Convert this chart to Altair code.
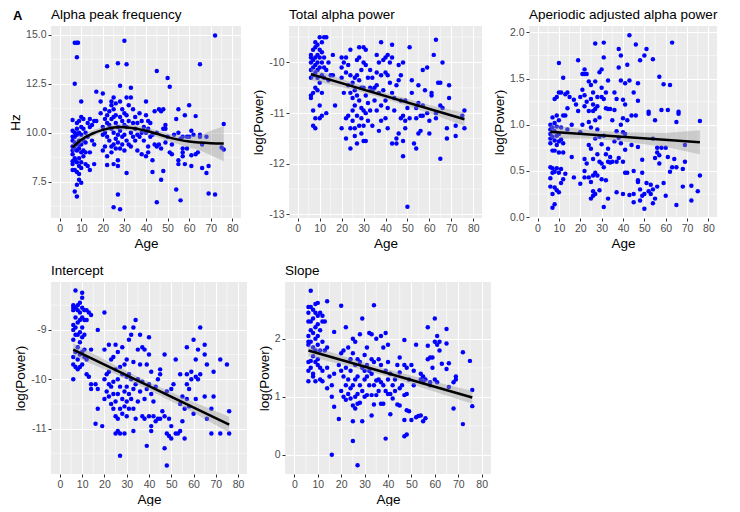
import altair as alt
import pandas as pd

FONT = "Liberation Sans"

AGE_MAJOR = [0, 10, 20, 30, 40, 50, 60, 70, 80]
AGE_MINOR = [5, 15, 25, 35, 45, 55, 65, 75]

# ---------------- Panel 1: Alpha peak frequency (age, Hz) ----------------
apf_points = [
    (6,10.65),(6,10.1),(6,9.8),(6,9.3),(6,9.1),(6,8.9),(6,8.55),(6,8.4),(6,8.1),(6,9.6),
    (7,14.6),(7,12.5),(7,10.0),(7,9.5),(7,9.2),(7,8.7),(7,8.6),(7,8.1),(7,7.0),(7,9.8),
    (8,14.6),(8,13.85),(8,10.5),(8,9.9),(8,9.4),(8,9.1),(8,8.5),(8,8.0),(8,7.35),(8,6.75),(8,10.2),
    (8.5,14.6),
    (9,10.6),(9,10.0),(9,9.6),(9,9.2),(9,8.7),(9,8.3),(9,7.9),(9,7.6),(9,9.4),
    (10,11.6),(10,10.8),(10,10.3),(10,9.9),(10,9.4),(10,9.0),(10,8.5),(10,8.2),(10,7.45),
    (11,10.7),(11,10.2),(11,9.6),(11,9.1),(11,8.8),
    (12,10.0),(12,9.5),(12,8.4),(12,9.0),
    (13,9.8),(13,10.5),(13,8.3),
    (14,10.7),(14,10.3),(14,9.0),(14,8.1),
    (15,10.4),(15,9.6),
    (16,10.6),(16,9.4),(16,8.4),
    (17,12.1),(17,10.6),
    (19,11.6),(19,11.0),
    (20,12.0),(20,10.3),(20,9.9),(20,9.1),
    (21,11.2),(21,10.7),(21,10.0),(21,9.3),
    (22,13.4),(22,10.9),(22,10.5),(22,9.8),(22,8.8),(22,8.35),
    (23,11.1),(23,10.4),(23,9.6),
    (24,11.6),(24,11.4),(24,10.7),(24,10.2),(24,9.3),(24,9.0),
    (25,11.8),(25,11.2),(25,10.8),(25,10.0),(25,9.4),(25,8.4),(25,6.2),
    (26,11.5),(26,10.9),(26,10.5),(26,9.7),(26,9.2),
    (27,13.55),(27,10.3),(27,9.9),(27,9.5),(27,8.6),(27,8.3),(27,6.85),
    (28,12.4),(28,11.6),(28,10.8),(28,10.1),(28,9.2),(28,6.1),
    (29,11.2),(29,10.6),(29,9.8),(29,9.4),
    (30,14.7),(30,11.0),(30,10.4),(30,9.9),(30,9.1),
    (31,13.5),(31,11.8),(31,10.9),(31,10.3),(31,9.6),(31,7.95),
    (32,11.4),(32,10.6),(32,9.4),
    (33,12.3),(33,11.8),(33,10.0),(33,9.3),
    (34,11.2),(34,10.5),(34,9.8),
    (35,10.8),(35,10.2),(35,9.6),
    (36,10.5),(36,9.9),(36,9.1),
    (37,11.0),(37,9.8),
    (38,10.6),(38,10.0),(38,8.9),
    (39,10.3),(39,9.6),
    (40,11.6),(40,10.9),(40,10.0),(40,8.8),
    (41,10.6),(41,10.2),(41,9.3),(41,9.0),
    (42,10.5),(42,9.8),
    (43,9.9),(43,8.6),(43,8.0),
    (44,9.4),(44,11.1),
    (45,13.15),(45,10.0),(45,9.3),(45,6.45),
    (46,11.2),(46,9.4),
    (47,11.1),(47,7.6),(47,9.2),
    (48,11.2),(48,10.2),(48,8.05),
    (49,10.4),(49,10.2),(49,9.5),
    (50,12.8),(50,9.8),
    (51,12.35),(51,9.0),
    (52,8.9),(52,9.4),
    (53,9.9),
    (54,10.7),(54,7.1),
    (55,11.2),(55,10.0),(55,8.6),(55,8.4),
    (56,6.55),(56,9.7),
    (57,9.8),(57,9.2),(57,8.8),(57,9.0),
    (58,10.9),(58,8.4),
    (59,9.8),(59,9.2),
    (60,11.4),(60,9.8),
    (61,10.1),(61,8.85),(61,8.3),
    (62,9.9),
    (63,10.85),(63,8.9),
    (64,9.0),
    (65,13.5),(65,9.9),(65,9.8),
    (66,9.4),(66,8.2),
    (68,9.8),(68,7.95),
    (69,8.3),(69,6.9),
    (72,14.97),(72,6.85),
    (75,9.25),
    (76,10.45),(76,9.15),
]
apf_fit_age = [6, 10, 15, 20, 25, 28, 30, 35, 40, 45, 50, 55, 60, 65, 70, 76]
apf_fit     = [9.25, 9.65, 9.95, 10.15, 10.27, 10.3, 10.28, 10.22, 10.1, 9.95, 9.78, 9.65, 9.55, 9.5, 9.47, 9.45]
apf_band_age = [6, 10, 15, 20, 25, 30, 35, 40, 45, 50, 55, 60, 65, 70, 76]
apf_lo = [9.0, 9.45, 9.8, 10.0, 10.12, 10.12, 10.05, 9.93, 9.78, 9.58, 9.42, 9.25, 9.1, 8.85, 8.55]
apf_hi = [9.55, 9.85, 10.12, 10.3, 10.42, 10.44, 10.38, 10.27, 10.12, 9.98, 9.88, 9.85, 9.9, 10.1, 10.35]
apf_ymajor = [7.5, 10.0, 12.5, 15.0]
apf_yminor = [6.25, 8.75, 11.25, 13.75]

# ---------------- Panel 2: Total alpha power ----------------
tap_points = [
    (6,-9.85),(6,-10.0),(6,-10.15),(6,-10.3),(6,-10.65),(6,-10.7),(6,-9.9),
    (7,-9.95),(7,-10.1),(7,-10.25),(7,-10.6),(7,-11.25),(7,-10.95),(7,-9.75),
    (8,-9.7),(8,-9.9),(8,-10.05),(8,-10.2),(8,-10.5),(8,-11.1),(8,-11.3),(8,-9.6),
    (9,-9.65),(9,-9.85),(9,-10.0),(9,-10.15),(9,-10.55),(9,-10.3),
    (10,-9.5),(10,-9.75),(10,-9.9),(10,-10.1),(10,-10.4),(10,-10.85),(10,-11.1),
    (11,-9.8),(11,-10.0),(11,-10.25),(11,-10.6),(11,-11.05),(11,-9.6),
    (12,-9.5),(12,-9.9),(12,-10.1),(12,-10.3),
    (13,-9.5),(13,-10.15),(13,-11.0),
    (14,-10.0),(14,-10.35),
    (15,-10.25),
    (16,-9.85),(16,-10.25),
    (17,-10.85),
    (20,-9.9),(20,-10.1),(20,-10.3),(20,-11.3),
    (21,-10.0),(21,-10.6),
    (22,-9.9),(22,-10.2),(22,-11.1),(22,-11.5),
    (23,-10.05),(23,-10.45),(23,-11.05),
    (24,-9.75),(24,-10.25),(24,-10.6),(24,-11.3),(24,-11.7),
    (25,-10.4),(25,-10.7),(25,-10.95),(25,-11.15),
    (26,-10.3),(26,-10.55),(26,-10.85),(26,-11.3),(26,-11.45),
    (27,-9.95),(27,-10.25),(27,-10.65),(27,-11.05),(27,-11.6),
    (28,-9.7),(28,-9.9),(28,-10.35),(28,-10.75),(28,-11.25),
    (29,-10.15),(29,-10.5),(29,-10.9),(29,-11.1),(29,-11.4),
    (30,-9.7),(30,-10.0),(30,-10.5),(30,-10.95),(30,-11.25),(30,-11.55),
    (31,-9.75),(31,-10.05),(31,-10.65),(31,-11.0),(31,-11.55),
    (32,-10.3),(32,-10.8),(32,-11.15),
    (33,-10.15),(33,-10.5),(33,-10.95),
    (34,-10.3),(34,-10.55),(34,-11.25),
    (35,-10.5),(35,-10.75),
    (36,-9.85),(36,-10.2),(36,-10.45),(36,-10.95),
    (37,-10.0),(37,-10.6),(37,-11.35),
    (38,-9.6),(38,-10.25),(38,-10.85),(38,-11.15),
    (39,-9.95),(39,-10.55),
    (40,-9.9),(40,-10.2),(40,-10.75),(40,-11.1),
    (41,-9.85),(41,-10.25),(41,-10.9),(41,-11.3),
    (42,-10.0),(42,-10.4),
    (43,-9.65),(43,-10.6),(43,-11.6),(43,-9.9),
    (44,-10.7),(44,-10.95),
    (45,-10.45),(45,-11.5),(45,-11.6),
    (46,-10.05),(46,-10.35),(46,-11.4),
    (47,-10.25),(47,-10.75),(47,-11.1),
    (48,-10.0),(48,-11.05),(48,-11.55),(48,-11.85),
    (49,-10.75),(49,-11.3),(49,-11.15),
    (50,-12.85),(50,-10.9),
    (51,-9.7),(51,-11.1),
    (52,-10.35),(52,-10.6),
    (53,-11.6),
    (54,-10.9),(54,-11.7),(54,-11.1),
    (55,-10.45),(55,-10.8),(55,-11.4),
    (56,-11.35),(56,-11.05),
    (57,-10.15),(57,-10.85),(57,-11.05),
    (58,-10.55),
    (59,-10.1),(59,-11.0),
    (60,-11.15),(60,-11.4),
    (61,-10.6),(61,-10.65),
    (62,-9.85),
    (63,-9.55),(63,-11.1),(63,-11.0),
    (64,-10.4),
    (65,-10.4),(65,-11.9),(65,-10.85),
    (66,-10.0),(66,-10.9),
    (68,-11.3),(68,-11.5),
    (69,-10.45),(69,-10.7),
    (72,-11.25),(72,-11.45),
    (75,-11.05),
    (76,-10.95),(76,-11.3),
]
tap_fit_age = [6, 76]
tap_fit = [-10.23, -11.12]
tap_band_age = [6, 25, 40, 60, 76]
tap_lo = [-10.35, -10.54, -10.72, -11.0, -11.25]
tap_hi = [-10.11, -10.40, -10.60, -10.84, -10.99]
tap_ymajor = [-13, -12, -11, -10]
tap_yminor = [-12.5, -11.5, -10.5, -9.5]

# ---------------- Panel 3: Aperiodic adjusted alpha power ----------------
aap_points = [
    (6,1.0),(6,0.95),(6,0.85),(6,0.8),(6,0.54),(6,0.42),(6,0.33),(6,0.9),
    (7,1.08),(7,0.97),(7,0.87),(7,0.72),(7,0.53),(7,0.48),(7,0.1),(7,0.25),
    (8,1.02),(8,0.93),(8,0.83),(8,0.72),(8,0.49),(8,0.32),(8,0.14),(8,1.28),
    (9,1.1),(9,0.98),(9,0.88),(9,0.78),(9,0.53),(9,0.29),(9,1.3),
    (10,1.67),(10,1.35),(10,1.05),(10,0.9),(10,0.82),(10,0.48),(10,0.27),(10,0.7),
    (11,1.35),(11,0.97),(11,0.84),(11,0.52),(11,0.37),
    (12,1.51),(12,1.1),(12,0.8),(12,0.7),(12,0.41),
    (13,1.33),(13,1.1),(13,0.47),
    (14,1.35),(14,1.18),(14,0.95),
    (15,1.3),
    (16,1.0),(16,0.65),
    (17,1.27),(17,0.43),
    (18,1.22),
    (19,1.7),(19,1.15),
    (20,1.3),(20,0.36),(20,0.92),
    (21,1.55),(21,1.38),(21,1.0),
    (22,1.6),(22,1.55),(22,1.32),(22,1.2),(22,0.63),(22,0.43),(22,0.5),
    (23,1.55),(23,1.25),(23,0.58),
    (24,1.47),(24,1.15),(24,1.03),(24,0.78),(24,0.43),
    (25,1.43),(25,1.28),(25,0.97),(25,0.74),(25,0.38),(25,0.2),
    (26,1.35),(26,1.22),(26,1.15),(26,0.63),(26,0.45),(26,0.28),(26,0.23),
    (27,1.88),(27,1.47),(27,1.17),(27,1.05),(27,0.85),(27,0.48),(27,0.25),
    (28,1.3),(28,1.2),(28,0.95),(28,0.45),(28,0.68),
    (29,1.57),(29,1.08),(29,0.87),(29,0.6),(29,0.29),
    (30,1.6),(30,1.4),(30,1.3),(30,0.79),(30,0.58),(30,0.41),
    (31,1.89),(31,1.73),(31,1.28),(31,0.88),(31,0.54),(31,0.11),
    (32,1.35),(32,1.18),(32,0.68),(32,0.4),
    (33,1.48),(33,1.17),(33,0.74),(33,0.6),(33,0.2),
    (34,1.17),(34,0.65),(34,0.59),
    (35,1.05),(35,0.6),
    (36,1.35),(36,1.16),(36,0.82),
    (37,1.28),(37,0.93),(37,0.27),(37,0.6),
    (38,1.82),(38,1.62),(38,0.86),(38,0.64),
    (39,1.75),(39,1.48),(39,1.0),(39,0.8),
    (40,1.27),(40,1.07),(40,0.92),(40,0.6),(40,0.25),
    (41,1.45),(41,1.22),(41,0.73),(41,0.48),(41,0.9),
    (42,1.65),(42,1.05),(42,0.48),
    (43,1.97),(43,1.48),(43,0.24),
    (44,0.78),(44,1.1),
    (45,1.35),(45,0.5),(45,0.16),(45,0.25),
    (46,1.87),(46,1.1),
    (47,1.45),(47,1.26),(47,0.38),(47,0.4),(47,0.76),
    (48,1.7),(48,0.3),(48,0.18),
    (49,0.62),(49,0.48),(49,0.23),
    (50,1.75),(50,0.09),(50,0.25),
    (51,1.82),(51,0.37),
    (52,1.12),(52,1.14),(52,0.28),
    (53,0.25),(53,0.35),
    (54,1.71),(54,0.85),(54,0.3),(54,0.15),
    (55,1.05),(55,0.64),(55,0.2),
    (56,0.33),(56,0.7),(56,0.75),
    (57,1.52),(57,0.67),(57,0.58),
    (58,1.16),(58,0.75),
    (59,1.44),(59,0.37),
    (60,0.23),(60,0.75),
    (61,1.16),(61,0.65),
    (62,1.43),(62,0.49),
    (63,1.89),(63,0.54),
    (64,0.63),
    (65,1.03),(65,0.54),(65,0.13),
    (66,1.14),(66,1.12),
    (68,0.52),(68,0.33),
    (69,0.6),(69,0.78),
    (72,0.34),(72,0.18),
    (75,0.28),
    (76,1.04),(76,0.45),
]
aap_fit_age = [6, 76]
aap_fit = [0.925, 0.81]
aap_band_age = [6, 25, 40, 60, 76]
aap_lo = [0.85, 0.85, 0.82, 0.76, 0.68]
aap_hi = [1.0, 0.94, 0.92, 0.91, 0.94]
aap_ymajor = [0.0, 0.5, 1.0, 1.5, 2.0]
aap_yminor = [0.25, 0.75, 1.25, 1.75]

# ---------------- Panel 4: Intercept ----------------
int_points = [
    (6,-8.5),(6,-8.6),(6,-8.9),(6,-9.0),(6,-9.2),(6,-9.55),(6,-9.7),(6,-10.0),(6,-8.55),
    (7,-8.2),(7,-8.55),(7,-8.75),(7,-9.1),(7,-9.45),(7,-9.75),(7,-8.95),
    (8,-8.6),(8,-8.85),(8,-9.1),(8,-9.35),(8,-9.6),(8,-9.8),(8,-8.5),
    (9,-8.65),(9,-8.8),(9,-9.05),(9,-9.25),(9,-9.5),(9,-9.75),(9,-8.45),
    (10,-8.25),(10,-8.55),(10,-8.75),(10,-8.95),(10,-9.15),(10,-9.45),(10,-9.7),(10,-8.35),
    (11,-8.6),(11,-8.8),(11,-9.1),(11,-9.4),(11,-9.55),
    (12,-8.6),(12,-8.8),(12,-9.9),(12,-9.6),
    (13,-8.65),(13,-9.95),
    (14,-8.7),(14,-9.4),(14,-10.1),(14,-10.2),
    (16,-10.1),(16,-10.9),
    (17,-9.0),(17,-10.2),(17,-10.6),
    (19,-10.95),
    (20,-8.65),(20,-9.4),(20,-10.0),(20,-10.4),
    (21,-9.9),(21,-10.25),
    (22,-9.3),(22,-9.85),(22,-10.1),(22,-10.35),
    (23,-9.6),(23,-10.15),(23,-10.5),
    (24,-9.55),(24,-10.05),(24,-10.3),(24,-10.6),
    (25,-9.3),(25,-9.8),(25,-10.45),(25,-10.75),(25,-11.1),
    (26,-9.45),(26,-10.0),(26,-10.3),(26,-10.8),(26,-11.05),
    (27,-9.75),(27,-10.15),(27,-10.6),(27,-11.1),(27,-11.55),
    (28,-9.35),(28,-9.9),(28,-10.4),(28,-10.7),
    (29,-8.95),(29,-9.7),(29,-10.25),(29,-10.55),(29,-11.1),
    (30,-9.6),(30,-9.95),(30,-10.15),(30,-10.45),(30,-10.75),
    (31,-9.2),(31,-9.9),(31,-10.3),(31,-10.6),
    (32,-9.1),(32,-10.0),(32,-10.4),
    (33,-8.95),(33,-9.65),(33,-10.2),(33,-10.6),(33,-11.05),
    (34,-8.8),(34,-10.1),(34,-10.8),
    (35,-9.4),(35,-10.0),(35,-10.45),
    (36,-9.1),(36,-9.7),(36,-10.25),
    (37,-9.35),(37,-10.05),(37,-10.75),
    (38,-9.4),(38,-10.4),(38,-10.8),
    (39,-9.7),(39,-10.2),(39,-11.35),
    (40,-9.15),(40,-9.5),(40,-10.1),(40,-10.75),
    (41,-9.85),(41,-10.3),(41,-10.95),(41,-11.05),
    (42,-10.45),(42,-10.75),
    (43,-10.15),(43,-10.85),
    (44,-10.0),(44,-10.8),
    (45,-9.8),(45,-9.9),(45,-10.8),
    (46,-10.65),
    (47,-9.5),(47,-10.75),(47,-11.4),
    (48,-10.25),(48,-11.1),(48,-11.75),
    (49,-10.8),(49,-11.15),
    (50,-10.2),(50,-11.2),(50,-10.95),
    (51,-10.1),
    (52,-9.6),(52,-11.1),
    (53,-11.1),
    (54,-9.9),(54,-10.5),(54,-11.05),
    (55,-10.35),(55,-10.85),
    (56,-10.6),(56,-11.2),
    (57,-9.35),(57,-9.9),(57,-10.1),(57,-10.4),
    (58,-10.2),(58,-10.55),
    (59,-9.85),(59,-10.0),
    (60,-9.2),(60,-10.7),
    (61,-9.6),(61,-9.95),(61,-10.4),
    (62,-9.4),(62,-10.0),
    (63,-8.95),(63,-9.9),
    (65,-9.3),(65,-9.5),(65,-10.35),
    (66,-9.7),(66,-10.8),
    (68,-10.6),(68,-11.1),
    (69,-9.85),(69,-10.35),
    (72,-9.6),(72,-11.1),
    (75,-9.7),
    (76,-10.65),(76,-11.1),
]
int_fit_age = [6, 76]
int_fit = [-9.4, -10.92]
int_band_age = [6, 25, 40, 60, 76]
int_lo = [-9.53, -9.90, -10.22, -10.68, -11.08]
int_hi = [-9.27, -9.72, -10.06, -10.46, -10.76]
int_ymajor = [-11, -10, -9]
int_yminor = [-11.5, -10.5, -9.5, -8.5]

# ---------------- Panel 5: Slope ----------------
slp_points = [
    (6,2.55),(6,2.45),(6,2.3),(6,2.05),(6,1.9),(6,1.6),(6,1.45),(6,1.27),(6,1.95),
    (7,2.83),(7,2.55),(7,2.3),(7,2.15),(7,1.95),(7,1.62),(7,1.5),
    (8,2.5),(8,2.35),(8,2.1),(8,1.85),(8,1.4),(8,1.7),(8,1.35),
    (9,2.6),(9,2.45),(9,2.2),(9,2.0),(9,1.8),(9,1.6),(9,1.27),
    (10,2.62),(10,2.4),(10,2.25),(10,2.05),(10,1.9),(10,1.65),(10,1.55),
    (11,2.45),(11,2.15),(11,1.8),(11,1.5),(11,1.3),
    (12,2.4),(12,2.3),(12,1.95),(12,1.45),(12,1.27),
    (13,2.3),(13,1.8),
    (14,2.65),(14,1.5),(14,1.15),(14,1.85),
    (15,1.35),
    (16,0.0),(16,1.0),(16,1.2),
    (17,2.12),(17,0.83),(17,1.4),
    (19,1.55),(19,0.62),
    (20,2.57),(20,1.75),(20,1.45),(20,1.1),
    (21,1.8),(21,1.35),(21,1.0),
    (22,2.2),(22,1.5),(22,1.2),(22,0.95),
    (23,1.85),(23,1.3),(23,1.05),
    (24,1.65),(24,1.45),(24,1.15),(24,0.97),
    (25,2.0),(25,1.75),(25,1.2),(25,0.85),(25,0.58),(25,0.24),
    (26,1.95),(26,1.55),(26,1.3),(26,1.0),(26,0.8),
    (27,1.65),(27,1.35),(27,1.05),(27,0.88),(27,-0.18),
    (28,2.08),(28,1.6),(28,1.2),(28,0.9),
    (29,2.35),(29,1.5),(29,1.1),(29,0.58),
    (30,1.72),(30,1.45),(30,1.3),(30,1.0),
    (31,1.85),(31,1.55),(31,1.35),(31,1.03),
    (32,2.1),(32,1.45),(32,1.2),
    (33,2.08),(33,1.65),(33,1.4),(33,1.03),(33,0.68),
    (34,2.58),(34,1.6),(34,1.2),(34,0.87),
    (35,2.0),(35,1.28),(35,1.03),
    (36,1.65),(36,1.3),(36,1.1),
    (37,2.05),(37,1.55),(37,1.25),(37,0.88),
    (38,1.85),(38,1.2),(38,0.88),
    (39,2.1),(39,1.45),(39,1.1),(39,0.28),
    (40,1.9),(40,1.6),(40,1.3),(40,1.05),
    (41,1.4),(41,1.05),(41,0.7),
    (42,1.2),(42,0.97),
    (43,1.1),(43,1.3),
    (44,1.55),(44,0.87),
    (45,1.68),(45,1.42),(45,1.15),(45,0.85),
    (46,1.2),
    (47,1.98),(47,1.55),(47,1.03),(47,0.6),(47,0.32),
    (48,1.5),(48,1.05),(48,0.77),(48,0.35),
    (49,1.3),(49,0.75),
    (50,1.55),(50,0.6),
    (51,1.2),(51,1.45),
    (52,1.9),(52,0.65),
    (53,0.67),
    (54,1.4),(54,1.3),(54,0.68),
    (55,1.35),(55,1.25),(55,0.58),
    (56,1.3),(56,0.63),
    (57,2.2),(57,1.88),(57,1.65),
    (58,1.68),(58,1.25),(58,1.2),
    (59,1.68),(59,1.5),
    (60,2.35),(60,1.3),(60,1.95),
    (61,2.05),(61,1.25),(61,1.9),
    (62,1.95),(62,1.8),
    (63,1.57),
    (65,2.17),(65,1.92),(65,1.48),
    (66,1.58),(66,1.17),
    (68,0.8),(68,1.25),
    (69,1.35),(69,1.3),
    (72,1.77),(72,0.53),
    (75,1.62),
    (76,1.12),(76,0.84),
]
slp_fit_age = [6, 76]
slp_fit = [1.8, 0.99]
slp_band_age = [6, 25, 40, 60, 76]
slp_lo = [1.70, 1.51, 1.35, 1.09, 0.88]
slp_hi = [1.90, 1.65, 1.47, 1.26, 1.10]
slp_ymajor = [0, 1, 2]
slp_yminor = [0.5, 1.5, 2.5]


def panel(points, fit_age, fit_val, band_age, band_lo, band_hi, title, ytitle,
          ydomain, ymajor, yminor, decimals, width, height, smooth=False, tag=None):
    pts = pd.DataFrame(points, columns=["age", "val"])
    fit = pd.DataFrame({"age": fit_age, "val": fit_val})
    band = pd.DataFrame({"age": band_age, "lo": band_lo, "hi": band_hi})

    xs = alt.Scale(domain=[-4, 84], nice=False, zero=False)
    ys = alt.Scale(domain=ydomain, nice=False, zero=False)
    xaxis = alt.Axis(values=AGE_MAJOR, tickCount=len(AGE_MAJOR),
                     labelOverlap=False, title="Age")
    if decimals:
        yaxis = alt.Axis(values=ymajor, tickCount=len(ymajor), format=".1f",
                         labelOverlap=False, title=ytitle)
    else:
        yaxis = alt.Axis(values=ymajor, tickCount=len(ymajor),
                         labelExpr="'' + datum.value",
                         labelOverlap=False, title=ytitle)

    # minor grid lines (ggplot style), drawn under everything else
    gx = alt.Chart(pd.DataFrame({"age": AGE_MINOR})).mark_rule(
        color="white", strokeWidth=0.55).encode(x=alt.X("age:Q", scale=xs, axis=xaxis))
    gy = alt.Chart(pd.DataFrame({"val": yminor})).mark_rule(
        color="white", strokeWidth=0.55).encode(y=alt.Y("val:Q", scale=ys, axis=yaxis))

    p = alt.Chart(pts).mark_circle(size=20, color="#0000FF", opacity=1).encode(
        x=alt.X("age:Q", scale=xs, axis=xaxis),
        y=alt.Y("val:Q", scale=ys, axis=yaxis),
    )
    b = alt.Chart(band).mark_area(
        color="#999999", opacity=0.4, interpolate="monotone" if smooth else "linear"
    ).encode(x="age:Q", y="lo:Q", y2="hi:Q")
    l = alt.Chart(fit).mark_line(
        color="black", strokeWidth=2.5, interpolate="monotone" if smooth else "linear"
    ).encode(x="age:Q", y="val:Q")
    # panel title as a text mark so that every panel has the same top bound
    t = alt.Chart(pd.DataFrame({"t": [title]})).mark_text(
        font=FONT, fontSize=13.5, color="black", align="left", baseline="alphabetic"
    ).encode(text="t:N", x=alt.value(0), y=alt.value(-7))
    layers = [gx, gy, p, b, l, t]
    if tag:
        a = alt.Chart(pd.DataFrame({"t": [tag]})).mark_text(
            font=FONT, fontSize=13, fontWeight="bold", color="black",
            align="left", baseline="alphabetic"
        ).encode(text="t:N", x=alt.value(-38), y=alt.value(-6))
        layers.append(a)
    return alt.layer(*layers).properties(width=width, height=height)


p1 = panel(apf_points, apf_fit_age, apf_fit, apf_band_age, apf_lo, apf_hi,
           "Alpha peak frequency", "Hz", [5.65, 15.45], apf_ymajor, apf_yminor,
           True, 190, 192, smooth=True, tag="A")
p2 = panel(tap_points, tap_fit_age, tap_fit, tap_band_age, tap_lo, tap_hi,
           "Total alpha power", "log(Power)", [-13.07, -9.28], tap_ymajor, tap_yminor,
           False, 193, 192)
p3 = panel(aap_points, aap_fit_age, aap_fit, aap_band_age, aap_lo, aap_hi,
           "Aperiodic adjusted alpha power", "log(Power)", [-0.01, 2.07],
           aap_ymajor, aap_yminor, True, 188, 192)
p4 = panel(int_points, int_fit_age, int_fit, int_band_age, int_lo, int_hi,
           "Intercept", "log(Power)", [-11.92, -8.03], int_ymajor, int_yminor,
           False, 196, 192)
p5 = panel(slp_points, slp_fit_age, slp_fit, slp_band_age, slp_lo, slp_hi,
           "Slope", "log(Power)", [-0.33, 2.98], slp_ymajor, slp_yminor,
           False, 206, 192)

row1 = alt.hconcat(p1, p2, p3, spacing=9)
row2 = alt.hconcat(p4, p5, spacing=9)
chart = alt.vconcat(row1, row2, spacing=14).properties(
    padding={"left": 0, "top": 0, "right": 0, "bottom": 0}
).configure(
    background="white",
).configure_view(
    fill="#EBEBEB", stroke=None,
).configure_axis(
    domain=False,
    grid=True,
    gridColor="white",
    gridWidth=1.1,
    tickColor="#333333",
    tickSize=3,
    tickWidth=1,
    labelColor="#4D4D4D",
    labelFont=FONT,
    labelFontSize=10.5,
    labelPadding=2,
    titleFont=FONT,
    titleFontSize=13.5,
    titleFontWeight="normal",
    titleColor="black",
    titlePadding=3,
)

chart.save("out.html", embed_options={"renderer": "svg", "actions": False})
